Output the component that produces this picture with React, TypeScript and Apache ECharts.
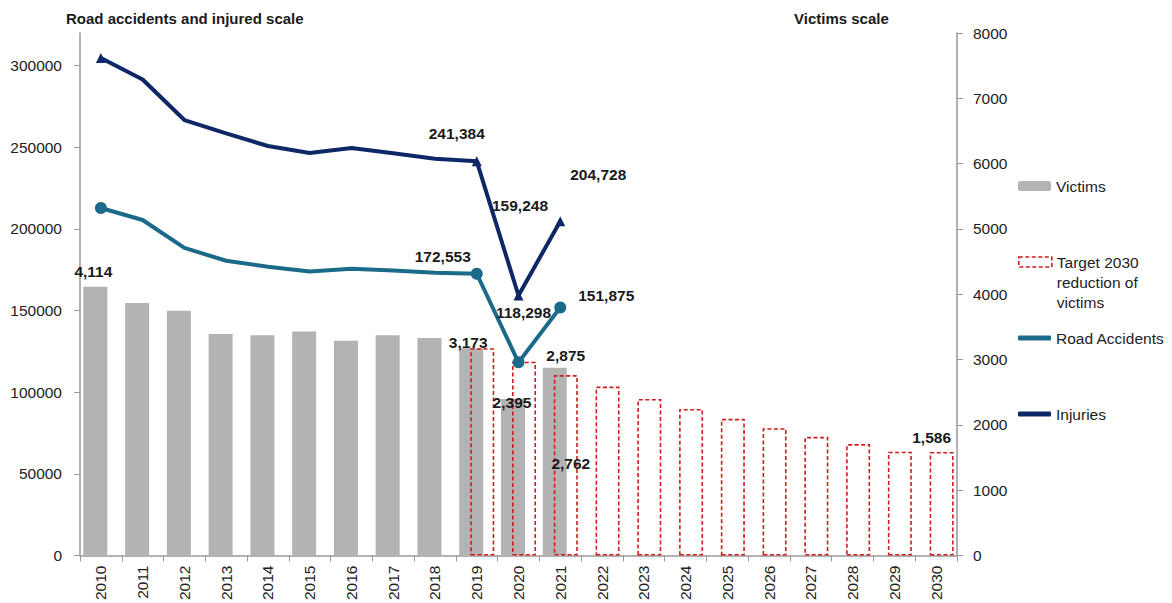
import React, { useEffect, useRef } from 'react';
import * as echarts from 'echarts';

const years = ['2010', '2011', '2012', '2013', '2014', '2015', '2016', '2017', '2018', '2019', '2020', '2021', '2022', '2023', '2024', '2025', '2026', '2027', '2028', '2029', '2030'];
const victims = [4114, 3866, 3749, 3393, 3373, 3429, 3287, 3373, 3332, 3173, 2395, 2875, null, null, null, null, null, null, null, null, null];
const target = [null, null, null, null, null, null, null, null, null, 3173, 2967, 2762, 2586, 2397, 2245, 2093, 1950, 1818, 1707, 1589, 1586];
const injuries = [304700, 291500, 266700, 258500, 250800, 246500, 249600, 246300, 243000, 241384, 159248, 204728];
const roadAccidents = [212800, 205500, 188400, 180500, 176800, 174000, 175600, 174600, 173200, 172553, 118298, 151875];
const leftTicks = [0, 50000, 100000, 150000, 200000, 250000, 300000];

const FONT = "'Liberation Sans', Arial, sans-serif";
const fmt = (v: number) => String(v).replace(/\B(?=(\d{3})+(?!\d))/g, ',');

// label offsets per index (presentation only)
const victimLabels: Record<number, number[]> = { 0: [-2, -2], 9: [-3, 7], 10: [-1, 16], 11: [11, 1] };
const targetLabels: Record<number, number[]> = { 11: [5, 101], 20: [-10, -1] };
const injuryLabels: Record<number, number[]> = { 9: [-20, -28], 10: [1.5, -90], 11: [38, -47] };
const roadLabels: Record<number, number[]> = { 9: [-34, -17], 10: [5, -50], 11: [46, -12] };
const markerIdx = [0, 9, 10, 11];

const labelStyle = { fontFamily: FONT, fontSize: 15.5, fontWeight: 'bold' as const, color: '#1a1a1a' };
const RED = '#d01c1c';

export default function App() {
  const ref = useRef<HTMLDivElement>(null);
  useEffect(() => {
    document.body.style.margin = '0';
    const chart = echarts.init(ref.current!, null, { renderer: 'svg' });

    const barData = (arr: (number | null)[], labels: Record<number, number[]>) =>
      arr.map((v, i) =>
        labels[i]
          ? { value: v, label: { show: true, position: 'top', offset: labels[i], formatter: (p: any) => fmt(p.value), ...labelStyle } }
          : v
      );
    const lineData = (arr: number[], labels: Record<number, number[]>) =>
      arr.map((v, i) => {
        const item: any = { value: v };
        if (!markerIdx.includes(i)) item.symbol = 'none';
        if (labels[i]) item.label = { show: true, position: 'inside', offset: labels[i], formatter: (p: any) => fmt(p.value), ...labelStyle };
        return item;
      });

    const legendBase = {
      orient: 'vertical',
      left: 1018,
      itemWidth: 33,
      itemGap: 0,
      padding: 0,
      selectedMode: false,
      textStyle: { fontFamily: FONT, fontSize: 15.5, color: '#222', lineHeight: 20 },
    };

    chart.setOption({
      animation: false,
      backgroundColor: '#fff',
      textStyle: { fontFamily: FONT },
      title: [
        { text: 'Road accidents and injured scale', left: 66, top: 11, padding: 0, textStyle: { fontFamily: FONT, fontSize: 15, fontWeight: 'bold', color: '#1a1a1a' } },
        { text: 'Victims scale', left: 794, top: 11, padding: 0, textStyle: { fontFamily: FONT, fontSize: 15, fontWeight: 'bold', color: '#1a1a1a' } },
      ],
      legend: [
        { ...legendBase, top: 176, itemHeight: 10, data: ['Victims'] },
        {
          ...legendBase, top: 212, itemHeight: 10,
          data: [{ name: 'Target 2030 reduction of victims', icon: 'rect' }],
          itemStyle: { color: 'rgba(255,255,255,0)', borderColor: RED, borderWidth: 1.6, borderType: [4, 2.5] },
          formatter: () => '\n\nTarget 2030\nreduction of\nvictims',
        },
        { ...legendBase, top: 328, itemHeight: 5, data: [{ name: 'Road Accidents', icon: 'roundRect' }] },
        { ...legendBase, top: 404, itemHeight: 5, data: [{ name: 'Injuries', icon: 'roundRect' }] },
      ],
      grid: { left: 80, right: 215, top: 33, bottom: 45, containLabel: false },
      xAxis: {
        type: 'category',
        data: years,
        axisLine: { lineStyle: { color: '#999', width: 1.5 } },
        axisTick: { show: true, length: 6, alignWithLabel: false, lineStyle: { color: '#999' } },
        axisLabel: { rotate: 90, margin: 10, fontFamily: FONT, fontSize: 15.5, color: '#222', interval: 0 },
      },
      yAxis: [
        {
          type: 'value',
          min: 0,
          max: 320000,
          interval: 50000,
          splitLine: { show: false },
          axisLine: { show: true, lineStyle: { color: '#999', width: 1.5 } },
          axisTick: { show: true, length: 6, lineStyle: { color: '#999' }, customValues: leftTicks },
          axisLabel: { margin: 18, fontFamily: FONT, fontSize: 15.5, color: '#222', customValues: leftTicks, formatter: (v: number) => String(v) },
        },
        {
          type: 'value',
          min: 0,
          max: 8000,
          interval: 1000,
          position: 'right',
          splitLine: { show: false },
          axisLine: { show: true, lineStyle: { color: '#999', width: 1.5 } },
          axisTick: { show: true, length: 6, lineStyle: { color: '#999' } },
          axisLabel: { margin: 16, fontFamily: FONT, fontSize: 15.5, color: '#222', formatter: (v: number) => String(v) },
        },
      ],
      series: [
        {
          name: 'Victims',
          type: 'bar',
          yAxisIndex: 1,
          barWidth: 24,
          barGap: '-54%',
          itemStyle: { color: '#b3b3b3' },
          data: barData(victims, victimLabels),
        },
        {
          name: 'Target 2030 reduction of victims',
          type: 'bar',
          yAxisIndex: 1,
          barWidth: 24,
          barGap: '-54%',
          itemStyle: { color: 'rgba(255,255,255,0)', borderColor: RED, borderWidth: 1.6, borderType: [4, 2.5] },
          data: barData(target, targetLabels),
        },
        {
          name: 'Road Accidents',
          type: 'line',
          yAxisIndex: 0,
          symbol: 'circle',
          symbolSize: 12,
          lineStyle: { color: '#1b6a8a', width: 4 },
          itemStyle: { color: '#1b6a8a' },
          data: lineData(roadAccidents, roadLabels),
        },
        {
          name: 'Injuries',
          type: 'line',
          yAxisIndex: 0,
          symbol: 'triangle',
          symbolSize: 10,
          lineStyle: { color: '#0d2767', width: 4 },
          itemStyle: { color: '#0d2767' },
          data: lineData(injuries, injuryLabels),
        },
      ],
    });
    return () => chart.dispose();
  }, []);
  return <div ref={ref} style={{ width: 1172, height: 603 }} />;
}
